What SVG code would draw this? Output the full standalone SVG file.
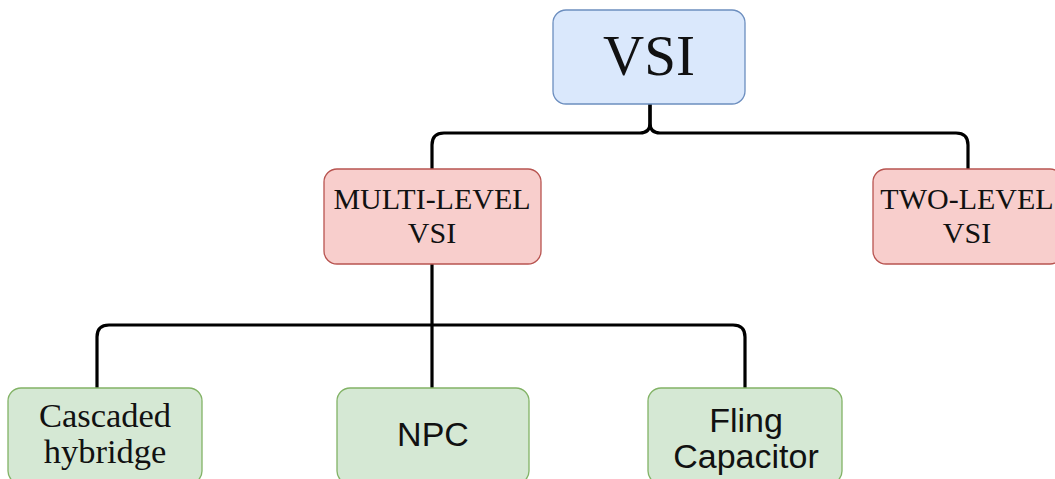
<svg xmlns="http://www.w3.org/2000/svg" width="1055" height="479" viewBox="0 0 1055 479">
  <style>
    .box { stroke-width: 1.3; }
    .blue { fill: #dae8fc; stroke: #6c8ebf; }
    .red { fill: #f8cecc; stroke: #b85450; }
    .green { fill: #d5e8d4; stroke: #82b366; }
    .serif { font-family: "Liberation Serif", "Times New Roman", serif; fill: #111; text-anchor: middle; }
    .sans { font-family: "Liberation Sans", Arial, sans-serif; fill: #111; text-anchor: middle; }
    .link { fill: none; stroke: #000; stroke-width: 3.2; stroke-linejoin: round; }
  </style>
  <rect width="1055" height="479" fill="#fff"/>

  <!-- connectors -->
  <g id="connectors">
    <path class="link" d="M650,104 V123 Q650,133 640,133 H444 Q432,133 432,145 V169"/>
    <path class="link" d="M650,104 V123 Q650,133 660,133 H956 Q968,133 968,145 V169"/>
    <path class="link" d="M432,264 V388"/>
    <path class="link" d="M432,325 H109 Q97,325 97,337 V388"/>
    <path class="link" d="M432,325 H733 Q745,325 745,337 V388"/>
  </g>

  <!-- top node -->
  <g id="node-vsi">
    <rect class="box blue" x="553" y="10" width="192" height="94" rx="13"/>
    <text class="serif" x="649" y="75" font-size="57">VSI</text>
  </g>

  <!-- second level -->
  <g id="node-multilevel">
    <rect class="box red" x="324" y="169" width="217" height="95" rx="13"/>
    <text class="serif" x="432" y="209" font-size="30">MULTI-LEVEL</text>
    <text class="serif" x="432" y="243" font-size="30">VSI</text>
  </g>
  <g id="node-twolevel">
    <rect class="box red" x="873" y="169" width="190" height="95" rx="13"/>
    <text class="serif" x="967" y="209" font-size="30">TWO-LEVEL</text>
    <text class="serif" x="967" y="243" font-size="30">VSI</text>
  </g>

  <!-- third level -->
  <g id="node-cascaded">
    <rect class="box green" x="8" y="388" width="194" height="96" rx="13"/>
    <text class="serif" x="105" y="427" font-size="34.5">Cascaded</text>
    <text class="serif" x="105" y="463" font-size="34.5">hybridge</text>
  </g>
  <g id="node-npc">
    <rect class="box green" x="337" y="388" width="192" height="96" rx="13"/>
    <text class="sans" x="433" y="446" font-size="34">NPC</text>
  </g>
  <g id="node-fling">
    <rect class="box green" x="648" y="388" width="194" height="96" rx="13"/>
    <text class="sans" x="746" y="432" font-size="34">Fling</text>
    <text class="sans" x="746" y="468" font-size="34">Capacitor</text>
  </g>
</svg>
